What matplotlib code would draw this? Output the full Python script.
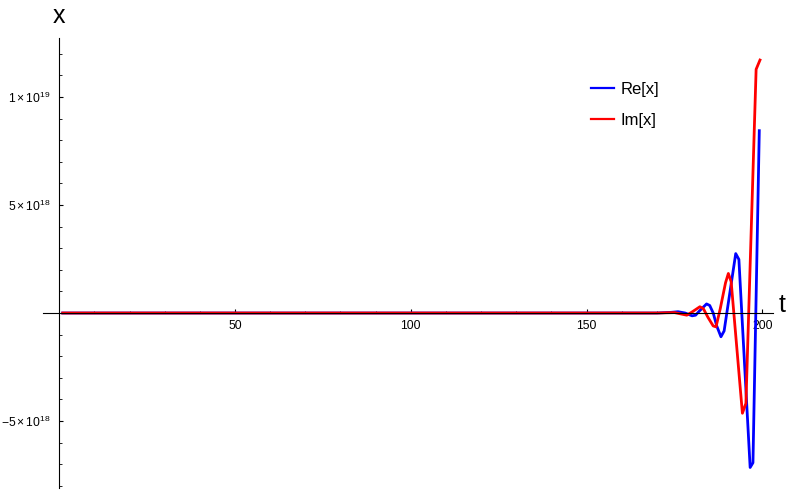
import numpy as np
import matplotlib.pyplot as plt
from matplotlib.ticker import FixedLocator, FuncFormatter

plt.rcParams['font.family'] = ['Liberation Sans', 'DejaVu Sans']
plt.rcParams['mathtext.fontset'] = 'custom'
plt.rcParams['mathtext.rm'] = 'Liberation Sans'
plt.rcParams['mathtext.it'] = 'Liberation Sans'

# values, units of 1e18
t_re = [1, 170, 174, 176, 178, 180, 181, 182, 184.1, 185, 186, 187,
        188.2, 189.1, 192.4, 193.3, 196.5, 197.3, 199.1]
re_x = [0, 0, 0.03, 0.06, 0.0, -0.13, -0.1, 0.08, 0.42, 0.35, 0.0, -0.6,
        -1.1, -0.83, 2.75, 2.48, -7.15, -6.93, 8.44]

t_im = [1, 170, 175, 177, 178.5, 180, 182.2, 183.2, 184.5, 186, 186.8,
        188, 189.5, 190.3, 191.1, 194.3, 195.3, 198.2, 199.3]
im_x = [0, 0, 0.02, -0.05, -0.1, 0.05, 0.29, 0.2, -0.2, -0.6, -0.64,
        0.2, 1.4, 1.83, 1.45, -4.64, -4.18, 11.28, 11.71]

re_x = np.array(re_x) * 1e18
im_x = np.array(im_x) * 1e18

fig = plt.figure(figsize=(7.92, 4.90), dpi=100)
ax = fig.add_axes([43 / 792, 1 - 488 / 490, (773 - 43) / 792, (488 - 38) / 490])

ax.plot(t_re, re_x, color='#0000ff', lw=2.0, label='Re[x]')
ax.plot(t_im, im_x, color='#ff0000', lw=2.0, label='Im[x]')

ax.set_xlim(-4.6, 203)
ax.set_ylim(-8.1e18, 12.73e18)

for s in ['top', 'right']:
    ax.spines[s].set_visible(False)
ax.spines['left'].set_position(('data', 0))
ax.spines['bottom'].set_position(('data', 0))
for s in ['left', 'bottom']:
    ax.spines[s].set_linewidth(0.8)

ax.xaxis.set_major_locator(FixedLocator([50, 100, 150, 200]))
ax.xaxis.set_minor_locator(FixedLocator([v for v in range(10, 201, 10) if v % 50]))
ax.yaxis.set_major_locator(FixedLocator([-5e18, 5e18, 1e19]))
ax.yaxis.set_minor_locator(FixedLocator([v * 1e18 for v in range(-8, 13) if v % 5]))


def ylab(v, pos):
    if v == 1e19:
        return r'$1\times10^{19}$'
    if v == 5e18:
        return r'$5\times10^{18}$'
    return '\u2212' + r'$5\times10^{18}$'


ax.yaxis.set_major_formatter(FuncFormatter(ylab))
ax.tick_params(which='major', direction='in', length=3.2, width=0.8, labelsize=8.7)
ax.tick_params(which='minor', direction='in', length=1.8, width=0.6)
ax.tick_params(axis='x', which='major', pad=5)
ax.tick_params(axis='y', which='major', pad=6)

fig.text(59 / 792, 1 - 16 / 490, 'x', fontsize=18, ha='center', va='center')
fig.text(779 / 792, 1 - 305 / 490, 't', fontsize=18, ha='left', va='center')

ax.legend(loc='upper left', bbox_to_anchor=(591 / 792, 1 - 82 / 490),
          bbox_transform=fig.transFigure, frameon=False, fontsize=12,
          borderpad=0, borderaxespad=0,
          handlelength=1.4, handletextpad=0.35, labelspacing=0.95)
for ln in ax.get_legend().get_lines():
    ln.set_linewidth(1.6)

fig.savefig('out.png', dpi=100)
